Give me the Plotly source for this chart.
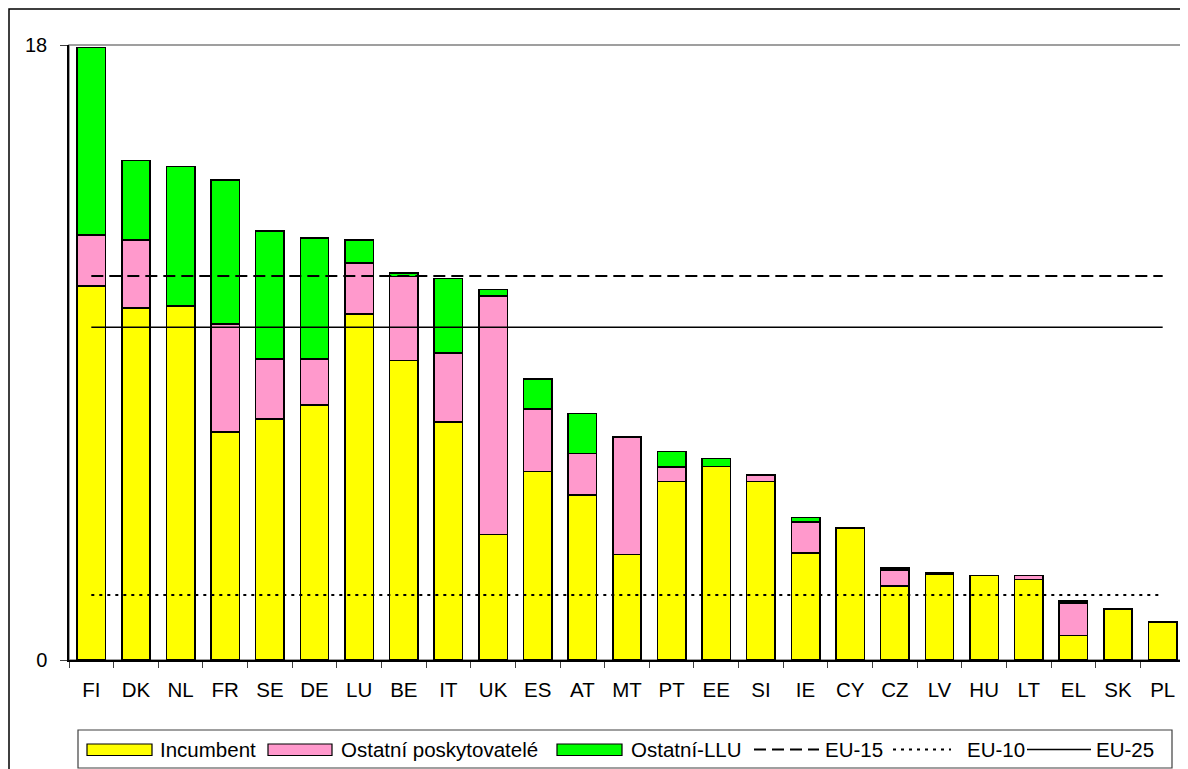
import plotly.graph_objects as go

# ---- data ----
countries = ["FI", "DK", "NL", "FR", "SE", "DE", "LU", "BE", "IT", "UK", "ES", "AT", "MT",
             "PT", "EE", "SI", "IE", "CY", "CZ", "LV", "HU", "LT", "EL", "SK", "PL"]
incumbent = [10.94, 10.30, 10.36, 6.67, 7.05, 7.46, 10.12, 8.76, 6.97, 3.67, 5.51, 4.83, 3.09,
             5.22, 5.66, 5.22, 3.13, 3.87, 2.17, 2.50, 2.47, 2.35, 0.71, 1.49, 1.11]
ostatni = [1.50, 2.00, 0.0, 3.16, 1.76, 1.35, 1.50, 2.46, 2.02, 6.98, 1.84, 1.22, 3.44,
           0.43, 0.0, 0.19, 0.91, 0.0, 0.46, 0.03, 0.0, 0.12, 0.96, 0.0, 0.0]
ostatni_llu = [5.48, 2.32, 4.08, 4.22, 3.74, 3.54, 0.68, 0.11, 2.18, 0.20, 0.88, 1.16, 0.0,
               0.45, 0.24, 0.0, 0.13, 0.0, 0.07, 0.03, 0.0, 0.0, 0.06, 0.0, 0.0]
eu15 = 11.24
eu10 = 1.90
eu25 = 9.74
y_ticks = [0, 18]

# ---- layout geometry (page pixels; the page body adds an 8px margin) ----
OFF = 8
W, H = 1188 - OFF, 769 - OFF
L, R, T, B = 69, 1185, 45, 660
FONT = "Liberation Sans, Arial, sans-serif"


def px(x):
    return (x - L) / (R - L)


def py(y):
    return (B - y) / (B - T)


fig = go.Figure()
bar_line = dict(color="black", width=1.5)
fig.add_trace(go.Bar(x=countries, y=incumbent, name="Incumbent",
                     marker=dict(color="#FFFF00", line=bar_line)))
fig.add_trace(go.Bar(x=countries, y=ostatni, name="Ostatní poskytovatelé",
                     marker=dict(color="#FF99CC", line=bar_line)))
fig.add_trace(go.Bar(x=countries, y=ostatni_llu, name="Ostatní-LLU",
                     marker=dict(color="#00FF00", line=bar_line)))
fig.add_trace(go.Scatter(x=countries, y=[eu15] * len(countries), name="EU-15", mode="lines",
                         line=dict(color="black", width=2, dash="12px,6px")))
fig.add_trace(go.Scatter(x=countries, y=[eu10] * len(countries), name="EU-10", mode="lines",
                         line=dict(color="black", width=2, dash="3px,5px")))
fig.add_trace(go.Scatter(x=countries, y=[eu25] * len(countries), name="EU-25", mode="lines",
                         line=dict(color="black", width=1.5)))

shapes = []
annotations = []
# plot area border (grey) and outer chart frame
shapes.append(dict(type="rect", xref="paper", yref="paper", x0=0, x1=1, y0=0, y1=1,
                   line=dict(color="#808080", width=1.5), layer="below"))
shapes.append(dict(type="rect", xref="paper", yref="paper", x0=px(9), x1=px(1200),
                   y0=py(800), y1=py(9), line=dict(color="black", width=1.5), layer="below"))
# legend box
shapes.append(dict(type="rect", xref="paper", yref="paper", x0=px(78), x1=px(1172),
                   y0=py(768), y1=py(730), line=dict(color="#404040", width=1.2)))
ly = 749.5
LFS = 20.5
swatches = [(87, 152, "#FFFF00", "Incumbent", 158),
            (268, 332, "#FF99CC", "Ostatní poskytovatelé", 339),
            (557, 622, "#00FF00", "Ostatní-LLU", 629)]
for x0, x1, col, label, tx in swatches:
    shapes.append(dict(type="rect", xref="paper", yref="paper", x0=px(x0), x1=px(x1),
                       y0=py(755.5), y1=py(744), fillcolor=col,
                       line=dict(color="black", width=1.2)))
    annotations.append(dict(xref="paper", yref="paper", x=px(tx), y=py(ly), text=label,
                            showarrow=False, xanchor="left", yanchor="middle",
                            font=dict(family=FONT, size=LFS, color="black")))
lines = [(754, 819, "12px,6px", 2, "EU-15", 823),
         (893, 951, "3px,5px", 2, "EU-10", 965),
         (1027, 1091, "solid", 1.5, "EU-25", 1094)]
for x0, x1, dash, wd, label, tx in lines:
    shapes.append(dict(type="line", xref="paper", yref="paper", x0=px(x0), x1=px(x1),
                       y0=py(ly), y1=py(ly), line=dict(color="black", width=wd, dash=dash)))
    annotations.append(dict(xref="paper", yref="paper", x=px(tx), y=py(ly), text=label,
                            showarrow=False, xanchor="left", yanchor="middle",
                            font=dict(family=FONT, size=LFS, color="black")))

fig.update_layout(
    width=W, height=H,
    margin=dict(l=L - OFF, r=W - (R - OFF), t=T - OFF, b=H - (B - OFF), pad=0),
    paper_bgcolor="white", plot_bgcolor="white",
    barmode="stack", bargap=0.364,
    showlegend=False,
    font=dict(family=FONT, color="black"),
    shapes=shapes, annotations=annotations,
    xaxis=dict(type="category", range=[-0.5, len(countries) - 0.5], tickson="boundaries",
               ticks="outside", ticklen=6, tickwidth=1.2, tickcolor="#404040",
               showline=True, linecolor="black", linewidth=1.5, showgrid=False,
               tickfont=dict(family=FONT, size=20.5), ticklabelstandoff=11, fixedrange=True),
    yaxis=dict(range=[0, 18], tickvals=y_ticks, ticks="outside", ticklen=7, tickwidth=1.2,
               tickcolor="#404040", showline=True, linecolor="black", linewidth=1.5,
               showgrid=False, zeroline=False, tickfont=dict(family=FONT, size=20),
               ticklabelstandoff=9, fixedrange=True),
)

fig.write_html("out.html")
